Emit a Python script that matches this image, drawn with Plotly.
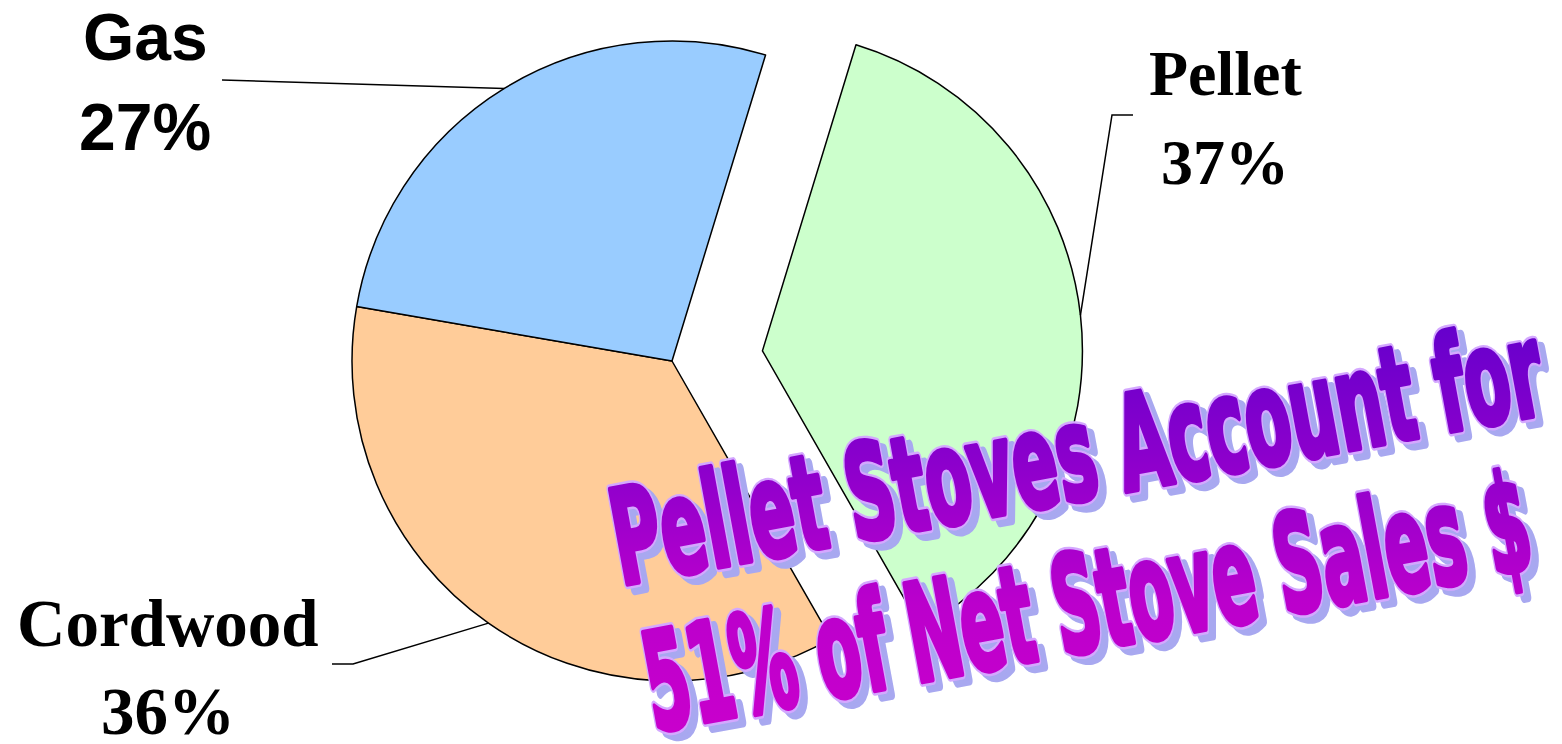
import json
import math
import plotly.graph_objects as go

# ---------------- data ----------------
labels = ["Pellet", "Cordwood", "Gas"]
values = [37, 36, 27]
pct_text = ["37%", "36%", "27%"]
slice_colors = ["#CCFFCC", "#FFCC99", "#99CCFF"]
headline = ["Pellet Stoves Account for", "51% of Net Stove Sales $"]

# ---------------- layout constants (px) ----------------
W, H = 1562, 744
R = 320                 # pie radius
CX, CY = 672, 361       # centre of the un-pulled pie
START = 17              # first slice starts 17 deg clockwise from 12 o'clock
PULL_PX = 91            # how far the Pellet slice is pulled out

total = float(sum(values))
spans = []
a = START
for v in values:
    s = 360.0 * v / total
    spans.append((a, a + s))
    a += s
mids = [(s0 + s1) / 2 for s0, s1 in spans]


def polar(cx, cy, r, deg):
    t = math.radians(deg)
    return cx + r * math.sin(t), cy - r * math.cos(t)


PCX, PCY = polar(CX, CY, PULL_PX, mids[0])   # centre of pulled Pellet slice


def px(x):
    return x / W


def py(y):
    return 1 - y / H


def dom(cx, cy):
    return dict(x=[px(cx - R), px(cx + R)], y=[py(cy + R), py(cy - R)])


def pie(show, cx, cy):
    fill = [c if i in show else "rgba(0,0,0,0)" for i, c in enumerate(slice_colors)]
    lw = [1.5 if i in show else 0 for i in range(len(values))]
    return go.Pie(
        labels=labels, values=values, sort=False, direction="clockwise",
        rotation=START, textinfo="none", hoverinfo="skip", showlegend=False,
        marker=dict(colors=fill, line=dict(color="black", width=lw)),
        domain=dom(cx, cy),
    )


fig = go.Figure()
fig.add_trace(pie({1, 2}, CX, CY))      # Cordwood + Gas
fig.add_trace(pie({0}, PCX, PCY))       # Pellet, pulled out

# ---------------- headline (WordArt-like) ----------------
hl_font = "Liberation Sans Narrow, DejaVu Sans Condensed, Arial Narrow, sans-serif"
HL_SIZE = 80
hl_pos = [(1077, 454), (1087, 603)]
hl_len = [944, 898]
hl_cap = [96, 99]
HL_ANGLE = -10.5
SHADOW = (7, 6)
# (layer name, offset, fill, stroke, stroke width)
layers = [
    ("shadow", SHADOW, "#A8A8F0", "#A8A8F0", 6.5),
    ("outline", (0, 0), "#D4A8FF", "#D4A8FF", 6.5),
    ("main", (0, 0), None, None, 3.5),
]

annotations = []
items = []
for lname, off, fill, stroke, sw in layers:
    for i, txt in enumerate(headline):
        x, y = hl_pos[i]
        annotations.append(dict(
            text=txt, x=px(x + off[0]), y=py(y + off[1]), xref="paper", yref="paper",
            xanchor="center", yanchor="middle", showarrow=False,
            font=dict(family=hl_font, size=HL_SIZE, color=fill or "#9900CC", weight="bold")))
        items.append(dict(index=len(annotations) - 1, len=hl_len[i], cap=hl_cap[i],
                          size=HL_SIZE, capRatio=0.73, angle=HL_ANGLE,
                          fill=fill or "url(#hlgrad%d)" % i,
                          stroke=stroke or "url(#hlgrad%d)" % i, sw=sw))

grads = [
    dict(id="hlgrad0", x1=0, y1=1, x2=1, y2=0,
         stops=[[0, "#C000CC"], [0.5, "#8A00CC"], [1, "#5C00CC"]]),
    dict(id="hlgrad1", x1=0, y1=1, x2=1, y2=0,
         stops=[[0, "#CC00CC"], [0.5, "#BB00CC"], [1, "#8800CC"]]),
]

# ---------------- slice labels ----------------
sans = "Liberation Sans, Arial, sans-serif"
serif = "Liberation Serif, Times New Roman, serif"
label_font = {"Gas": (sans, 66), "Pellet": (serif, 64), "Cordwood": (serif, 67)}
label_xy = {"Gas": (145, 37, 127), "Pellet": (1225, 73, 162), "Cordwood": (168, 623, 711)}
for i, name in enumerate(labels):
    fam, size = label_font[name]
    lx, ly1, ly2 = label_xy[name]
    for t, yy in ((name, ly1), (pct_text[i], ly2)):
        annotations.append(dict(
            text=t, x=px(lx), y=py(yy), xref="paper", yref="paper",
            xanchor="center", yanchor="middle", showarrow=False,
            font=dict(family=fam, size=size, color="black", weight="bold")))

# ---------------- leader lines ----------------
centres = [(PCX, PCY), (CX, CY), (CX, CY)]
leader_tail = {
    "Pellet": [(1112, 115), (1133, 115)],
    "Cordwood": [(353, 664), (332, 664)],
    "Gas": [(222, 80)],
}
shapes = []
for i, name in enumerate(labels):
    sx, sy = polar(centres[i][0], centres[i][1], R, mids[i])
    pts = [(sx, sy)] + leader_tail[name]
    path = "M " + " L ".join("%.5f,%.5f" % (px(x), py(y)) for x, y in pts)
    shapes.append(dict(type="path", path=path, xref="paper", yref="paper",
                       line=dict(color="black", width=1.5)))

fig.update_layout(
    width=W, height=H, margin=dict(l=0, r=0, t=0, b=0),
    paper_bgcolor="white", plot_bgcolor="white",
    annotations=annotations, shapes=shapes,
)

spec = json.dumps(dict(items=items, grads=grads))
js = """
document.body.style.margin = '0';
var gd = document.getElementById('{plot_id}');
var SPEC = __SPEC__;
var ns = 'http://www.w3.org/2000/svg';
var svg = gd.querySelector('svg.main-svg');
var defs = svg.querySelector('defs');
if (!defs) { defs = document.createElementNS(ns, 'defs'); svg.insertBefore(defs, svg.firstChild); }
SPEC.grads.forEach(function(g) {
  var lg = document.createElementNS(ns, 'linearGradient');
  lg.setAttribute('id', g.id);
  lg.setAttribute('x1', g.x1); lg.setAttribute('y1', g.y1);
  lg.setAttribute('x2', g.x2); lg.setAttribute('y2', g.y2);
  g.stops.forEach(function(s) {
    var st = document.createElementNS(ns, 'stop');
    st.setAttribute('offset', s[0]); st.setAttribute('stop-color', s[1]);
    lg.appendChild(st);
  });
  defs.appendChild(lg);
});
SPEC.items.forEach(function(it) {
  var g = gd.querySelector('g.annotation[data-index="' + it.index + '"]');
  if (!g) return;
  var t = g.querySelector('text.annotation-text');
  if (!t) return;
  var bb = t.getBBox();
  var sx = it.len / bb.width;
  var sy = it.cap / (it.capRatio * it.size);
  var cx = bb.x + bb.width / 2, cy = bb.y + bb.height / 2;
  t.setAttribute('transform', 'translate(' + cx + ',' + cy + ') rotate(' + it.angle +
      ') scale(' + sx + ',' + sy + ') translate(' + (-cx) + ',' + (-cy) + ')');
  t.style.setProperty('fill', it.fill);
  t.style.setProperty('stroke', it.stroke);
  t.style.setProperty('stroke-width', it.sw + 'px');
  t.style.setProperty('stroke-linejoin', 'round');
  t.style.setProperty('paint-order', 'stroke');
});
""".replace("__SPEC__", spec)

fig.write_html("out.html", post_script=js, config={"displayModeBar": False})
